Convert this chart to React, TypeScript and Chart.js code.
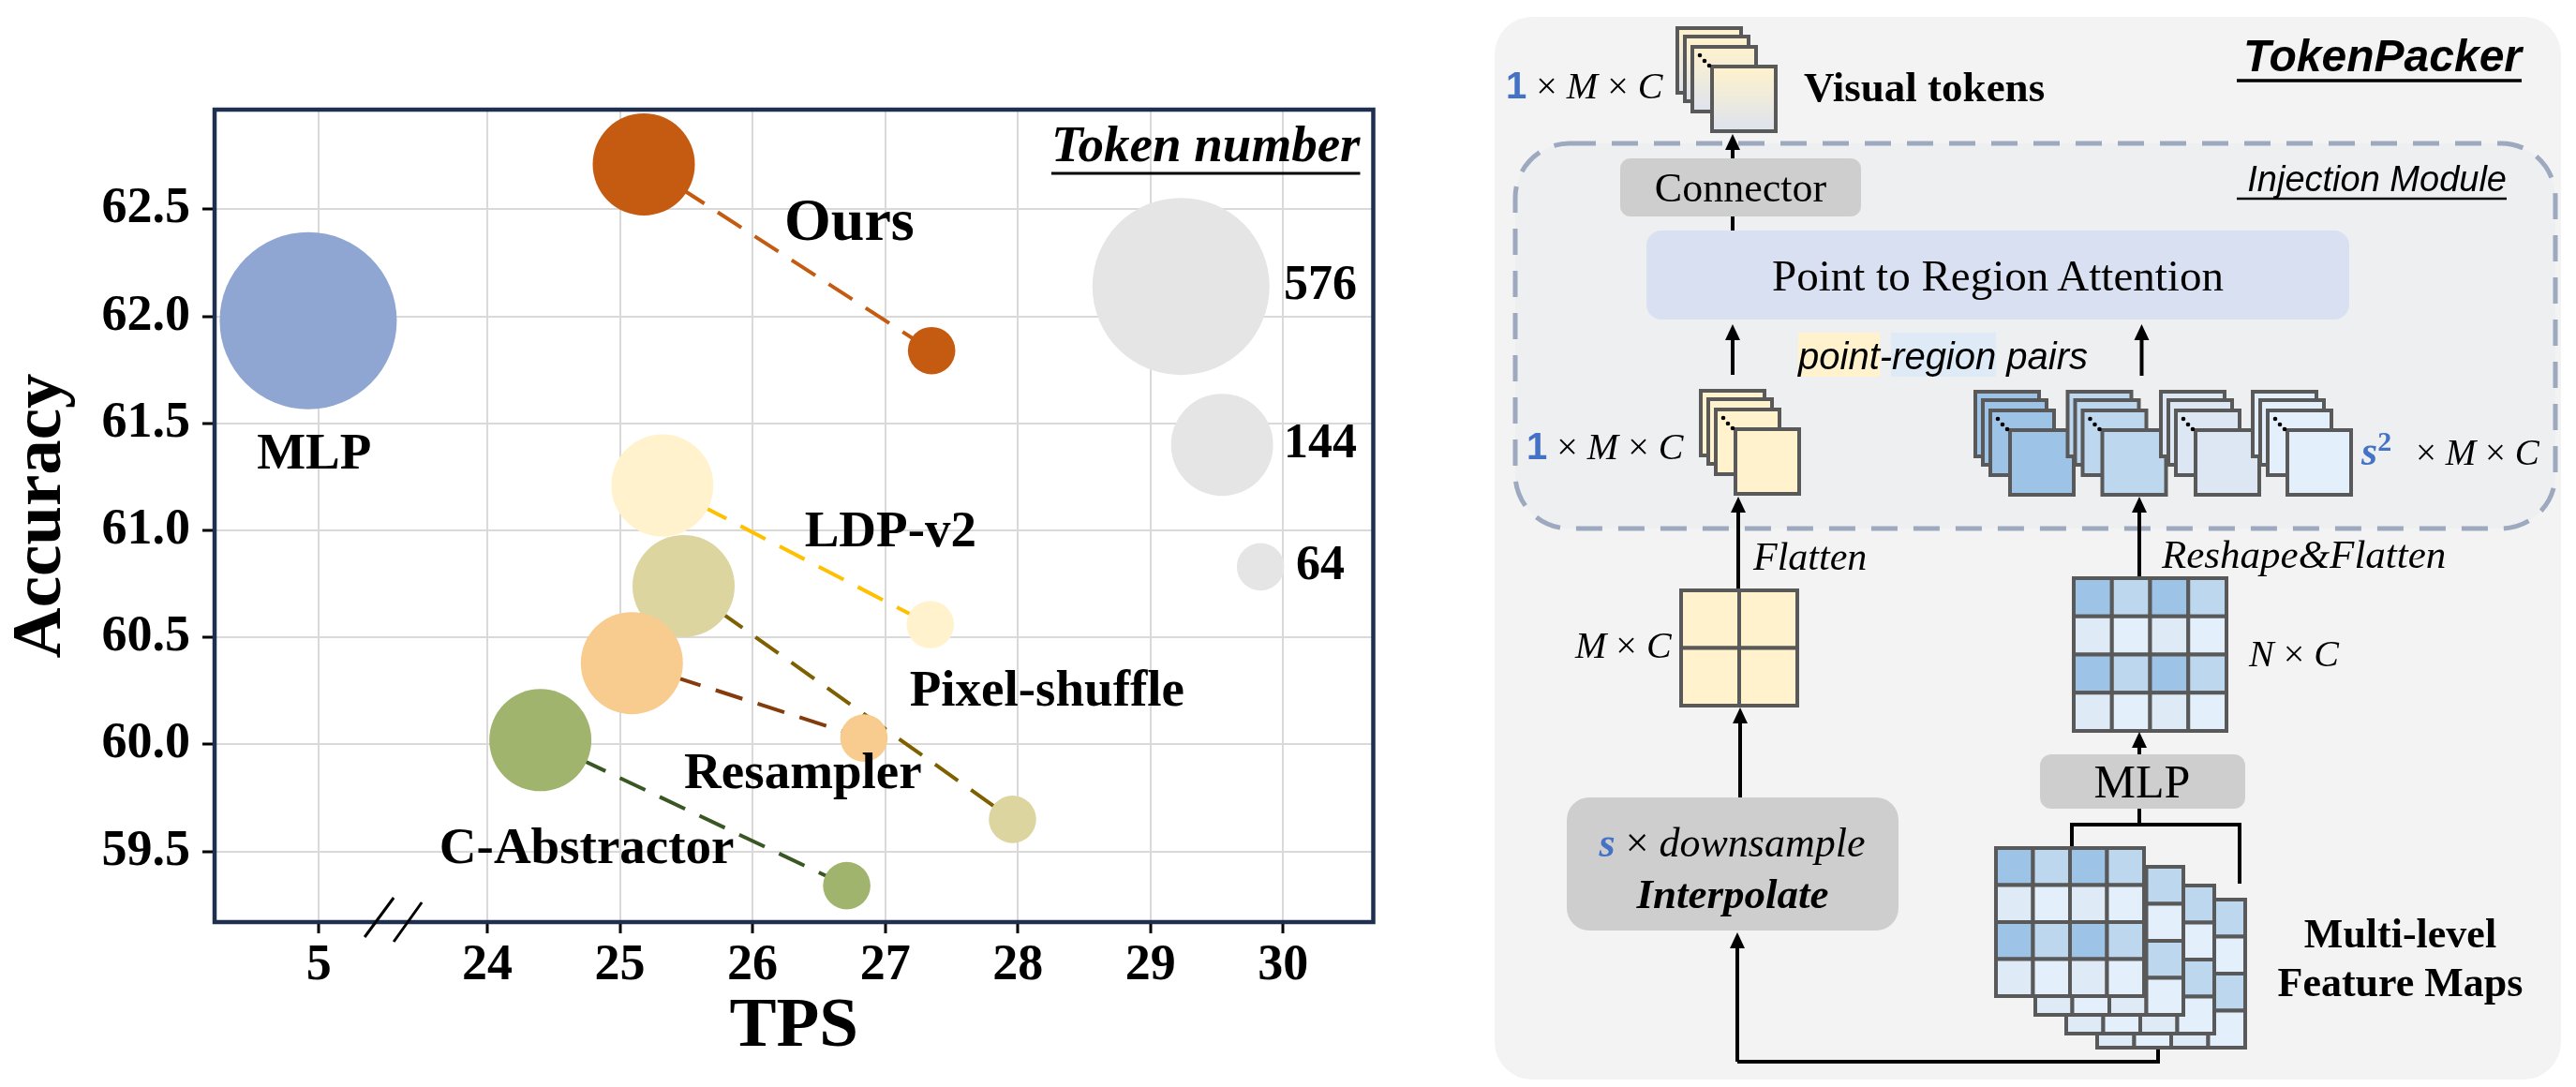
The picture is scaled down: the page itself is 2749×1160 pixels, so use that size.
import React, { useEffect, useRef } from "react";
import { Chart, registerables } from "chart.js";

Chart.register(...registerables);

// ---------------- data ----------------
const SERIES = ["Ours", "LDP-v2", "Pixel-shuffle", "Resampler", "C-Abstractor"];
// 144-token variants
const TPS_144 = [25.18, 25.32, 25.48, 25.09, 24.4];
const ACC_144 = [62.71, 61.21, 60.74, 60.38, 60.02];
const TOKENS_144 = [144, 144, 144, 144, 144];
// 64-token variants
const TPS_64 = [27.35, 27.34, 27.96, 26.84, 26.71];
const ACC_64 = [61.84, 60.56, 59.65, 60.03, 59.34];
const TOKENS_64 = [64, 64, 64, 64, 64];
// MLP baseline
const MLP_TPS = [4.92];
const MLP_ACC = [61.98];
const MLP_TOKENS = [576];
// size legend
const LEGEND_TOKENS = [576, 144, 64];
const LEGEND_TPS = [29.23, 29.54, 29.83];
const LEGEND_ACC = [62.14, 61.4, 60.83];
const LEGEND_LABEL_TPS = 30.28;
// ticks
const X_TICKS = [5, 24, 25, 26, 27, 28, 29, 30];
const Y_TICKS = [59.5, 60.0, 60.5, 61.0, 61.5, 62.0, 62.5];
// annotations
const LABELS = ["Ours", "MLP", "LDP-v2", "Pixel-shuffle", "Resampler", "C-Abstractor"];
const LABEL_TPS = [26.73, 4.965, 27.04, 28.22, 26.38, 24.75];
const LABEL_ACC = [62.43, 61.35, 60.99, 60.245, 59.86, 59.507];

// ---------------- styles ----------------
const FILL: Record<string, string> = {
  "Ours": "#C55A11",
  "LDP-v2": "#FFF2CC",
  "Pixel-shuffle": "#DDD5A0",
  "Resampler": "#F8CB8E",
  "C-Abstractor": "#A1B46D",
};
const LINE: Record<string, string> = {
  "Ours": "#C55A11",
  "LDP-v2": "#FFC000",
  "Pixel-shuffle": "#7F6000",
  "Resampler": "#843C0C",
  "C-Abstractor": "#385723",
};
const BUBBLE_ORDER = [9, 8, 7, 6, 5];
const TOKEN_RADIUS: Record<number, number> = { 576: 94.5, 144: 54.5, 64: 25.3 };
const MLP_FILL = "#8FA5D2";
const LEGEND_FILL = "#E5E5E6";
const SERIF = '"Liberation Serif", "Times New Roman", serif';
const SANS = '"Liberation Sans", Arial, sans-serif';

// broken x-axis: low TPS values are shifted next to 24
const BREAK_SHIFT = 17.73;
const toAxis = (v: number) => (v < 15 ? v + BREAK_SHIFT : v);
const X_MIN = 21.944;
const X_MAX = 30.68;
const Y_MIN = 59.17;
const Y_MAX = 62.966;

const CANVAS_W = 1560;
const CANVAS_H = 1160;

const annotPlugin = {
  id: "annot",
  afterDatasetsDraw(chart: any) {
    const { ctx, scales, chartArea } = chart;
    const x = scales.x;
    const y = scales.y;
    ctx.save();
    ctx.fillStyle = "#000";
    ctx.textAlign = "center";
    ctx.textBaseline = "middle";
    LABELS.forEach((t, i) => {
      const size = t === "Ours" ? 64 : 55;
      ctx.font = `bold ${size}px ${SERIF}`;
      ctx.fillText(t, x.getPixelForValue(toAxis(LABEL_TPS[i])), y.getPixelForValue(LABEL_ACC[i]));
    });
    ctx.font = `bold 52px ${SERIF}`;
    LEGEND_TOKENS.forEach((t, i) => {
      ctx.fillText(String(t), x.getPixelForValue(LEGEND_LABEL_TPS), y.getPixelForValue(LEGEND_ACC[i]));
    });
    // "Token number" header
    ctx.font = `italic bold 55px ${SERIF}`;
    ctx.textAlign = "right";
    ctx.textBaseline = "alphabetic";
    const rx = chartArea.right - 14;
    const by = chartArea.top + 55;
    ctx.fillText("Token number", rx, by);
    const w = ctx.measureText("Token number").width;
    ctx.strokeStyle = "#000";
    ctx.lineWidth = 3;
    ctx.beginPath();
    ctx.moveTo(rx - w, by + 13);
    ctx.lineTo(rx, by + 13);
    ctx.stroke();
    ctx.restore();
  },
  afterDraw(chart: any) {
    const { ctx, chartArea, scales } = chart;
    ctx.save();
    ctx.strokeStyle = "#1F2F50";
    ctx.lineWidth = 4.5;
    ctx.strokeRect(chartArea.left, chartArea.top, chartArea.right - chartArea.left, chartArea.bottom - chartArea.top);
    // axis break marks
    const p1 = scales.x.getPixelForValue(toAxis(X_TICKS[0]));
    const p2 = scales.x.getPixelForValue(X_TICKS[1]);
    const bx = (p1 + p2) / 2 - 10;
    const by = chartArea.bottom - 3;
    ctx.strokeStyle = "#000";
    ctx.lineWidth = 3;
    ctx.beginPath();
    ctx.moveTo(bx - 31, by + 19);
    ctx.lineTo(bx, by - 23);
    ctx.moveTo(bx, by + 24);
    ctx.lineTo(bx + 30, by - 18);
    ctx.stroke();
    ctx.restore();
  },
};

function BubbleChart() {
  const ref = useRef<HTMLCanvasElement>(null);
  useEffect(() => {
    const canvas = ref.current;
    if (!canvas) return;
    const datasets: any[] = [];
    SERIES.forEach((name, i) => {
      datasets.push({
        type: "line",
        data: [
          { x: toAxis(TPS_144[i]), y: ACC_144[i] },
          { x: toAxis(TPS_64[i]), y: ACC_64[i] },
        ],
        borderColor: LINE[name],
        borderWidth: 4,
        borderDash: [30, 17],
        pointRadius: 0,
        fill: false,
        order: 50,
      });
    });
    datasets.push({
      type: "bubble",
      data: LEGEND_TOKENS.map((t, i) => ({ x: toAxis(LEGEND_TPS[i]), y: LEGEND_ACC[i], r: TOKEN_RADIUS[t] })),
      backgroundColor: LEGEND_FILL,
      borderWidth: 0,
      order: 10,
    });
    datasets.push({
      type: "bubble",
      data: MLP_TPS.map((v, i) => ({ x: toAxis(v), y: MLP_ACC[i], r: TOKEN_RADIUS[MLP_TOKENS[i]] })),
      backgroundColor: MLP_FILL,
      borderWidth: 0,
      order: 10,
    });
    SERIES.forEach((name, i) => {
      datasets.push({
        type: "bubble",
        data: [
          { x: toAxis(TPS_144[i]), y: ACC_144[i], r: TOKEN_RADIUS[TOKENS_144[i]] },
          { x: toAxis(TPS_64[i]), y: ACC_64[i], r: TOKEN_RADIUS[TOKENS_64[i]] },
        ],
        backgroundColor: FILL[name],
        borderWidth: 0,
        order: BUBBLE_ORDER[i],
      });
    });

    const tickFont = { family: SERIF, size: 54, weight: "bold" as const };
    const chart = new Chart(canvas, {
      type: "bubble",
      data: { datasets },
      options: {
        responsive: false,
        animation: false,
        devicePixelRatio: 1,
        events: [],
        layout: { padding: { top: 117, right: CANVAS_W - 1472.5, left: 0, bottom: 0 } },
        plugins: { legend: { display: false }, tooltip: { enabled: false } },
        scales: {
          x: {
            type: "linear",
            min: X_MIN,
            max: X_MAX,
            afterBuildTicks: (s: any) => {
              s.ticks = X_TICKS.map((v) => ({ value: toAxis(v) }));
            },
            afterFit: (s: any) => {
              s.height = 176;
            },
            grid: { color: "#D9D9D9", lineWidth: 2, tickColor: "#000", tickLength: 12, tickWidth: 3, drawTicks: true },
            border: { display: false },
            ticks: {
              font: tickFont,
              color: "#000",
              padding: 3,
              maxRotation: 0,
              autoSkip: false,
              callback: (val: any) => {
                const t = X_TICKS.find((v) => Math.abs(toAxis(v) - Number(val)) < 1e-6);
                return t === undefined ? "" : String(t);
              },
            },
            title: {
              display: true,
              text: "TPS",
              color: "#000",
              font: { family: SERIF, size: 75, weight: "bold" },
              padding: { top: 18, bottom: 18 },
            },
          },
          y: {
            type: "linear",
            min: Y_MIN,
            max: Y_MAX,
            afterBuildTicks: (s: any) => {
              s.ticks = Y_TICKS.map((v) => ({ value: v }));
            },
            afterFit: (s: any) => {
              s.width = 229;
            },
            grid: { color: "#D9D9D9", lineWidth: 2, tickColor: "#000", tickLength: 13, tickWidth: 3, drawTicks: true },
            border: { display: false },
            ticks: {
              font: tickFont,
              color: "#000",
              padding: 13,
              autoSkip: false,
              callback: (val: any) => Number(val).toFixed(1),
            },
            title: {
              display: true,
              text: "Accuracy",
              color: "#000",
              font: { family: SERIF, size: 75, weight: "bold" },
              padding: { top: 0, bottom: 0 },
            },
          },
        },
      } as any,
      plugins: [annotPlugin],
    });
    return () => chart.destroy();
  }, []);
  return (
    <canvas
      ref={ref}
      width={CANVAS_W}
      height={CANVAS_H}
      style={{ position: "absolute", left: 0, top: 0, width: CANVAS_W, height: CANVAS_H }}
    />
  );
}

// ---------------- diagram (static illustration) ----------------
const STROKE = "#595959";
const BA = "#9DC3E6";
const BB = "#BDD7EE";
const BC = "#DEEBF7";
const BD = "#E3F0FB";
const YEL = "#FFF2CC";
const GRAYBOX = "#CFCECF";
const MATHBLUE = "#4472C4";
const BLUE_GRID = [
  [BA, BB, BA, BB],
  [BC, BD, BC, BD],
  [BA, BB, BA, BB],
  [BC, BD, BC, BD],
];
const YEL_GRID = [
  [YEL, YEL],
  [YEL, YEL],
];
const STACK_OFFSETS = [
  [-37, -41],
  [-29, -32],
  [-21, -21],
  [0, 0],
];
const RIGHT_STACK_X = [2145, 2243.5, 2343, 2441];
const RIGHT_STACK_FILL = [BA, BB, "#DCE7F3", BD];
const FEATURE_LAYERS = [
  [2238, 960],
  [2205, 945],
  [2172, 925],
  [2130, 905],
];

function Arrow({ x, y1, y2 }: { x: number; y1: number; y2: number }) {
  const h = 17;
  const w = 8;
  return (
    <g>
      <line x1={x} y1={y1} x2={x} y2={y2 + h - 2} stroke="#000" strokeWidth={4} />
      <polygon points={`${x},${y2} ${x - w},${y2 + h} ${x + w},${y2 + h}`} fill="#000" />
    </g>
  );
}

function Stack({ x, y, fill }: { x: number; y: number; fill: string }) {
  return (
    <g>
      {STACK_OFFSETS.map(([dx, dy], i) => (
        <rect key={i} x={x + dx} y={y + dy} width={68} height={69} fill={fill} stroke={STROKE} strokeWidth={4} />
      ))}
      <circle cx={x - 13} cy={y - 12} r={2.3} fill="#000" />
      <circle cx={x - 8} cy={y - 6} r={2.3} fill="#000" />
      <circle cx={x - 3} cy={y - 1} r={2.3} fill="#000" />
    </g>
  );
}

function Grid({ x, y, w, h, colors }: { x: number; y: number; w: number; h: number; colors: string[][] }) {
  const n = colors.length;
  const m = colors[0].length;
  const cw = w / m;
  const ch = h / n;
  const cells: any[] = [];
  colors.forEach((row, r) =>
    row.forEach((c, k) => {
      cells.push(
        <rect key={`${r}-${k}`} x={x + k * cw} y={y + r * ch} width={cw} height={ch} fill={c} stroke={STROKE} strokeWidth={4} />
      );
    })
  );
  return <g>{cells}</g>;
}

function MathLabel({ x, y, lead, size }: { x: number; y: number; lead: string; size: number }) {
  return (
    <text x={x} y={y} fontFamily={SERIF} fontSize={size} fill="#000">
      <tspan fill={MATHBLUE} fontWeight="bold" fontFamily={SANS}>
        {lead}
      </tspan>
      <tspan>{" × "}</tspan>
      <tspan fontStyle="italic">M</tspan>
      <tspan>{" × "}</tspan>
      <tspan fontStyle="italic">C</tspan>
    </text>
  );
}

function Diagram() {
  return (
    <svg
      width={2749}
      height={1160}
      style={{ position: "absolute", left: 0, top: 0, pointerEvents: "none" }}
      xmlns="http://www.w3.org/2000/svg"
    >
      <defs>
        <linearGradient id="vt" x1="0" y1="0" x2="0" y2="1">
          <stop offset="0" stopColor="#FFF2CC" />
          <stop offset="1" stopColor="#DDE3EE" />
        </linearGradient>
      </defs>
      {/* panel */}
      <rect x={1595} y={18} width={1138} height={1134} rx={40} fill="#F4F3F4" />
      {/* injection module */}
      <rect
        x={1617}
        y={153}
        width={1110}
        height={411}
        rx={58}
        fill="#EEEFF1"
        stroke="#9DA9BE"
        strokeWidth={5}
        strokeDasharray="28 17"
      />
      {/* titles */}
      <text x={2691} y={76} textAnchor="end" fontFamily={SANS} fontWeight="bold" fontStyle="italic" fontSize={48} fill="#000">
        TokenPacker
      </text>
      <line x1={2387} x2={2691} y1={86} y2={86} stroke="#000" strokeWidth={3.5} />
      <text x={2675} y={204} textAnchor="end" fontFamily={SANS} fontStyle="italic" fontSize={38} fill="#000">
        Injection Module
      </text>
      <line x1={2387} x2={2675} y1={212} y2={212} stroke="#000" strokeWidth={2.5} />

      {/* visual tokens */}
      <MathLabel x={1607} y={105} lead="1" size={40} />
      <Stack x={1827} y={71} fill="url(#vt)" />
      <text x={1925} y={108} fontFamily={SERIF} fontWeight="bold" fontSize={45} fill="#000">
        Visual tokens
      </text>

      {/* connector */}
      <Arrow x={1849} y1={169} y2={143} />
      <line x1={1849} x2={1849} y1={231} y2={246} stroke="#000" strokeWidth={4} />
      <rect x={1729} y={169} width={257} height={62} rx={11} fill={GRAYBOX} />
      <text x={1857.5} y={215} textAnchor="middle" fontFamily={SERIF} fontSize={44} fill="#000">
        Connector
      </text>

      {/* point to region attention */}
      <rect x={1757} y={246} width={750} height={95} rx={16} fill="#D9E0F2" />
      <text x={2132} y={310} textAnchor="middle" fontFamily={SERIF} fontSize={47} fill="#000">
        Point to Region Attention
      </text>
      <Arrow x={1849} y1={400} y2={346} />
      <Arrow x={2285.5} y1={401} y2={346} />

      {/* point-region pairs */}
      <rect x={1919} y={355} width={87} height={47} fill={YEL} />
      <rect x={2018} y={355} width={112} height={47} fill="#DEEBF7" />
      <text x={1919} y={394} fontFamily={SANS} fontStyle="italic" fontSize={40} fill="#000">
        point-region pairs
      </text>

      {/* point stack */}
      <MathLabel x={1629} y={490} lead="1" size={40} />
      <Stack x={1852} y={458} fill={YEL} />

      {/* region stacks */}
      {RIGHT_STACK_X.map((sx, i) => (
        <Stack key={i} x={sx} y={459} fill={RIGHT_STACK_FILL[i]} />
      ))}
      <text x={2520} y={496} fontFamily={SERIF} fontSize={39} fill="#000">
        <tspan fill={MATHBLUE} fontWeight="bold" fontStyle="italic" fontSize={44}>
          s
        </tspan>
        <tspan fill={MATHBLUE} fontWeight="bold" fontSize={30} dy={-15}>
          2
        </tspan>
      </text>
      <text x={2578} y={496} fontFamily={SERIF} fontSize={39} fill="#000">
        <tspan>{"× "}</tspan>
        <tspan fontStyle="italic">M</tspan>
        <tspan>{" × "}</tspan>
        <tspan fontStyle="italic">C</tspan>
      </text>

      {/* left branch */}
      <Arrow x={1855} y1={630} y2={530} />
      <text x={1871} y={608} fontFamily={SERIF} fontStyle="italic" fontSize={42} fill="#000">
        Flatten
      </text>
      <Grid x={1794} y={630} w={124} h={123} colors={YEL_GRID} />
      <text x={1681} y={702} fontFamily={SERIF} fontSize={40} fill="#000">
        <tspan fontStyle="italic">M</tspan>
        <tspan>{" × "}</tspan>
        <tspan fontStyle="italic">C</tspan>
      </text>
      <Arrow x={1857} y1={851} y2={755} />
      <rect x={1672} y={851} width={354} height={142} rx={24} fill={GRAYBOX} />
      <text x={1848.5} y={914} textAnchor="middle" fontFamily={SERIF} fontSize={44} fill="#000">
        <tspan fill={MATHBLUE} fontWeight="bold" fontStyle="italic">
          s
        </tspan>
        <tspan>{" × "}</tspan>
        <tspan fontStyle="italic">downsample</tspan>
      </text>
      <text x={1849} y={969} textAnchor="middle" fontFamily={SERIF} fontWeight="bold" fontStyle="italic" fontSize={45} fill="#000">
        Interpolate
      </text>
      <Arrow x={1854} y1={1133} y2={995} />
      <polyline points="1854,1133 2303,1133 2303,1118" fill="none" stroke="#000" strokeWidth={4} />

      {/* right branch */}
      <Arrow x={2283} y1={617} y2={530} />
      <text x={2307} y={606} fontFamily={SERIF} fontStyle="italic" fontSize={43} fill="#000">
        Reshape&amp;Flatten
      </text>
      <Grid x={2213} y={617} w={163} h={163} colors={BLUE_GRID} />
      <text x={2400} y={711} fontFamily={SERIF} fontSize={40} fill="#000">
        <tspan fontStyle="italic">N</tspan>
        <tspan>{" × "}</tspan>
        <tspan fontStyle="italic">C</tspan>
      </text>
      <Arrow x={2283} y1={805} y2={781} />
      <rect x={2177} y={805} width={219} height={58} rx={12} fill={GRAYBOX} />
      <text x={2286} y={851} textAnchor="middle" fontFamily={SERIF} fontSize={50} fill="#000">
        MLP
      </text>
      <polyline points="2283,863 2283,880" fill="none" stroke="#000" strokeWidth={4} />
      <polyline points="2211,904 2211,880 2390,880 2390,943" fill="none" stroke="#000" strokeWidth={4} />

      {/* multi-level feature maps */}
      {FEATURE_LAYERS.map(([fx, fy], i) => (
        <Grid key={i} x={fx} y={fy} w={158} h={158} colors={BLUE_GRID} />
      ))}
      <text x={2561.5} y={1011} textAnchor="middle" fontFamily={SERIF} fontWeight="bold" fontSize={44} fill="#000">
        Multi-level
      </text>
      <text x={2561.5} y={1063} textAnchor="middle" fontFamily={SERIF} fontWeight="bold" fontSize={44} fill="#000">
        Feature Maps
      </text>
    </svg>
  );
}

export default function App() {
  return (
    <div
      style={{
        position: "fixed",
        left: 0,
        top: 0,
        width: 2749,
        height: 1160,
        background: "#FFFFFF",
        overflow: "hidden",
      }}
    >
      <BubbleChart />
      <Diagram />
    </div>
  );
}
